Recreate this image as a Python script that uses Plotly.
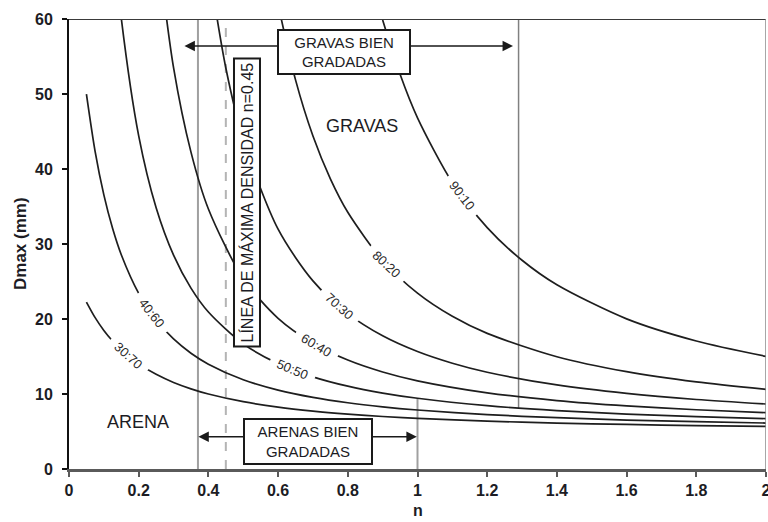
import numpy as np
import plotly.graph_objects as go

# Exponent n of the grading curve and the resulting Dmax (mm), one pair of lists per gravel:sand ratio
n_90_10 = [0.90, 0.95, 1.0, 1.1, 1.2, 1.3, 1.4, 1.6, 1.8, 2.0]
d_90_10 = [59.88, 52.63, 46.83, 38.20, 32.19, 27.83, 24.56, 20.02, 17.07, 15.02]

n_80_20 = [0.6, 0.65, 0.7, 0.75, 0.8, 0.9, 1.0, 1.1, 1.2, 1.4, 1.6, 1.8, 2.0]
d_80_20 = [61.93, 51.88, 44.40, 38.69, 34.23, 27.80, 23.45, 20.36, 18.08, 14.97, 12.98, 11.61, 10.62]

n_70_30 = [0.4, 0.45, 0.5, 0.6, 0.7, 0.8, 0.9, 1.0, 1.1, 1.2, 1.4, 1.6, 1.8, 2.0]
d_70_30 = [67.4, 53.47, 43.90, 31.98, 25.08, 20.72, 17.76, 15.66, 14.10, 12.90, 11.21, 10.08, 9.27, 8.67]

n_60_40 = [0.25, 0.3, 0.35, 0.4, 0.5, 0.6, 0.7, 0.8, 0.9, 1.0, 1.2, 1.4, 1.6, 1.8, 2.0]
d_60_40 = [71.3, 53.51, 42.25, 34.67, 25.38, 20.09, 16.77, 14.53, 12.94, 11.76, 10.16, 9.13, 8.42, 7.90, 7.51]

n_50_50 = [0.125, 0.15, 0.2, 0.25, 0.3, 0.35, 0.4, 0.5, 0.6, 0.7, 0.8, 0.9, 1.0, 1.2, 1.4, 1.6, 1.8, 2.0]
d_50_50 = [71.97, 60.10, 44.42, 34.83, 28.51, 24.12, 20.93, 16.69, 14.05, 12.29, 11.04, 10.12, 9.43,
           8.44, 7.79, 7.32, 6.98, 6.72]

n_40_60 = [0.05, 0.075, 0.1, 0.125, 0.15, 0.2, 0.25, 0.3, 0.35, 0.4, 0.5, 0.6, 0.7, 0.8, 0.9, 1.0,
           1.2, 1.4, 1.6, 1.8, 2.0]
d_40_60 = [49.98, 42.32, 36.55, 32.09, 28.57, 23.42, 19.88, 17.34, 15.44, 13.98, 11.90, 10.52, 9.55,
           8.83, 8.29, 7.87, 7.25, 6.84, 6.53, 6.31, 6.13]

n_30_70 = [0.05, 0.075, 0.1, 0.125, 0.15, 0.2, 0.25, 0.3, 0.35, 0.4, 0.5, 0.6, 0.7, 0.8, 0.9, 1.0,
           1.2, 1.4, 1.6, 1.8, 2.0]
d_30_70 = [22.26, 20.18, 18.48, 17.07, 15.89, 14.02, 12.62, 11.54, 10.69, 10.00, 8.98, 8.25, 7.72,
           7.32, 7.00, 6.75, 6.38, 6.12, 5.94, 5.79, 5.68]

curve_names = ["90:10", "80:20", "70:30", "60:40", "50:50", "40:60", "30:70"]
curve_n = [n_90_10, n_80_20, n_70_30, n_60_40, n_50_50, n_40_60, n_30_70]
curve_d = [d_90_10, d_80_20, d_70_30, d_60_40, d_50_50, d_40_60, d_30_70]

# Where each ratio label sits along its curve (n) and its rotation
label_n = [1.128, 0.912, 0.777, 0.711, 0.642, 0.238, 0.170]
label_angle = [52, 43, 42, 31, 23, 52, 42]

# Reference lines
n_arena_limit = 0.37
n_max_density = 0.45
n_arena_upper = 1.0
n_grava_upper = 1.29
d_arena_upper_top = 9.4
d_grava_upper_bottom = 8.1

x_ticks = [0, 0.2, 0.4, 0.6, 0.8, 1, 1.2, 1.4, 1.6, 1.8, 2]
x_tick_text = ["0", "0.2", "0.4", "0.6", "0.8", "1", "1.2", "1.4", "1.6", "1.8", "2"]
y_ticks = [0, 10, 20, 30, 40, 50, 60]

FONT = "Arial, 'Liberation Sans', Helvetica, sans-serif"
TXT = "#1c1c24"

fig = go.Figure()
for name, xs, ys in zip(curve_names, curve_n, curve_d):
    fig.add_trace(go.Scatter(x=xs, y=ys, mode="lines", name=name,
                             line=dict(color="#1e1e1e", width=1.7, shape="spline", smoothing=0.8),
                             showlegend=False, hoverinfo="skip"))

shapes = [
    dict(type="line", x0=n_arena_limit, x1=n_arena_limit, y0=0, y1=60, xref="x", yref="y",
         line=dict(color="#a0a0a0", width=2), layer="below"),
    dict(type="line", x0=n_max_density, x1=n_max_density, y0=0, y1=60, xref="x", yref="y",
         line=dict(color="#b4b4b4", width=2, dash="dash"), layer="below"),
    dict(type="line", x0=n_arena_upper, x1=n_arena_upper, y0=0, y1=d_arena_upper_top, xref="x", yref="y",
         line=dict(color="#a0a0a0", width=2), layer="below"),
    dict(type="line", x0=n_grava_upper, x1=n_grava_upper, y0=d_grava_upper_bottom, y1=60, xref="x", yref="y",
         line=dict(color="#808080", width=1.5), layer="below"),
    # top and right frame
    dict(type="line", x0=0, x1=2, y0=60, y1=60, xref="x", yref="y",
         line=dict(color="#3a3a3a", width=2)),
    dict(type="line", x0=2, x1=2, y0=0, y1=60, xref="x", yref="y",
         line=dict(color="#8a8a8a", width=1.5)),
]

annotations = []
# double-headed range arrows
annotations.append(dict(x=1.274, y=56.4, ax=0.327, ay=56.4, xref="x", yref="y", axref="x", ayref="y",
                        text="", showarrow=True, arrowhead=2, startarrowhead=2, arrowside="end+start",
                        arrowsize=1.3, startarrowsize=1.3, arrowwidth=1.6, arrowcolor="#1a1a1a"))
annotations.append(dict(x=0.998, y=4.3, ax=0.367, ay=4.3, xref="x", yref="y", axref="x", ayref="y",
                        text="", showarrow=True, arrowhead=2, startarrowhead=2, arrowside="end+start",
                        arrowsize=1.3, startarrowsize=1.3, arrowwidth=1.6, arrowcolor="#1a1a1a"))

# ratio labels on the curves
for name, ln, ang, xs, ys in zip(curve_names, label_n, label_angle, curve_n, curve_d):
    annotations.append(dict(x=ln, y=float(np.interp(ln, xs, ys)), xref="x", yref="y",
                            text="\u00a0\u00a0" + name + "\u00a0\u00a0", showarrow=False, textangle=ang,
                            bgcolor="white", borderpad=0,
                            font=dict(family=FONT, size=13, color="#2a2a2a")))

annotations += [
    dict(x=0.789, y=55.54, xref="x", yref="y", text="GRAVAS BIEN<br>GRADADAS", showarrow=False,
         bgcolor="white", bordercolor="#1a1a1a", borderwidth=2, borderpad=2, width=126, height=38,
         font=dict(family=FONT, size=15, color=TXT)),
    dict(x=0.685, y=3.64, xref="x", yref="y", text="ARENAS BIEN<br>GRADADAS", showarrow=False,
         bgcolor="white", bordercolor="#1a1a1a", borderwidth=2, borderpad=2, width=122, height=39,
         font=dict(family=FONT, size=15, color=TXT)),
    dict(x=0.51, y=35.5, xref="x", yref="y", text="LÍNEA DE MÁXIMA DENSIDAD n=0.45", showarrow=False,
         textangle=-90, bgcolor="white", bordercolor="#1a1a1a", borderwidth=2, borderpad=3,
         font=dict(family=FONT, size=16, color=TXT)),
    dict(x=0.841, y=45.8, xref="x", yref="y", text="GRAVAS", showarrow=False,
         font=dict(family=FONT, size=18, color=TXT)),
    dict(x=0.197, y=6.3, xref="x", yref="y", text="ARENA", showarrow=False,
         font=dict(family=FONT, size=18, color=TXT)),
    dict(x=-0.0703, y=0.5, xref="paper", yref="paper", xanchor="center", yanchor="middle",
         text="<b>Dmax (mm)</b>", showarrow=False,
         textangle=-90, font=dict(family=FONT, size=17, color=TXT)),
    dict(x=0.5, y=-0.1156, xref="paper", yref="paper", xanchor="center", yanchor="bottom",
         text="<b>n</b>", showarrow=False,
         font=dict(family=FONT, size=16, color=TXT)),
]

fig.update_layout(
    width=768, height=522,
    margin=dict(l=69, r=2, t=19, b=53, autoexpand=False),
    paper_bgcolor="white", plot_bgcolor="white",
    shapes=shapes, annotations=annotations,
    xaxis=dict(range=[0, 2], tickvals=x_ticks, ticktext=x_tick_text, showgrid=False, zeroline=False,
               showline=True, linecolor="#5a5a5a", linewidth=3, ticks="outside", ticklen=5,
               tickwidth=2, tickcolor="#5a5a5a", ticklabeloverflow="allow", automargin=False,
               tickfont=dict(family=FONT, size=16, color=TXT, weight="bold")),
    yaxis=dict(range=[0, 60], tickvals=y_ticks, showgrid=False, zeroline=False,
               showline=True, linecolor="#111111", linewidth=2, ticks="outside", ticklen=5,
               tickwidth=2, tickcolor="#111111", ticklabelstandoff=6, automargin=False,
               tickfont=dict(family=FONT, size=16, color=TXT, weight="bold")),
)

fig.write_html("out.html")
